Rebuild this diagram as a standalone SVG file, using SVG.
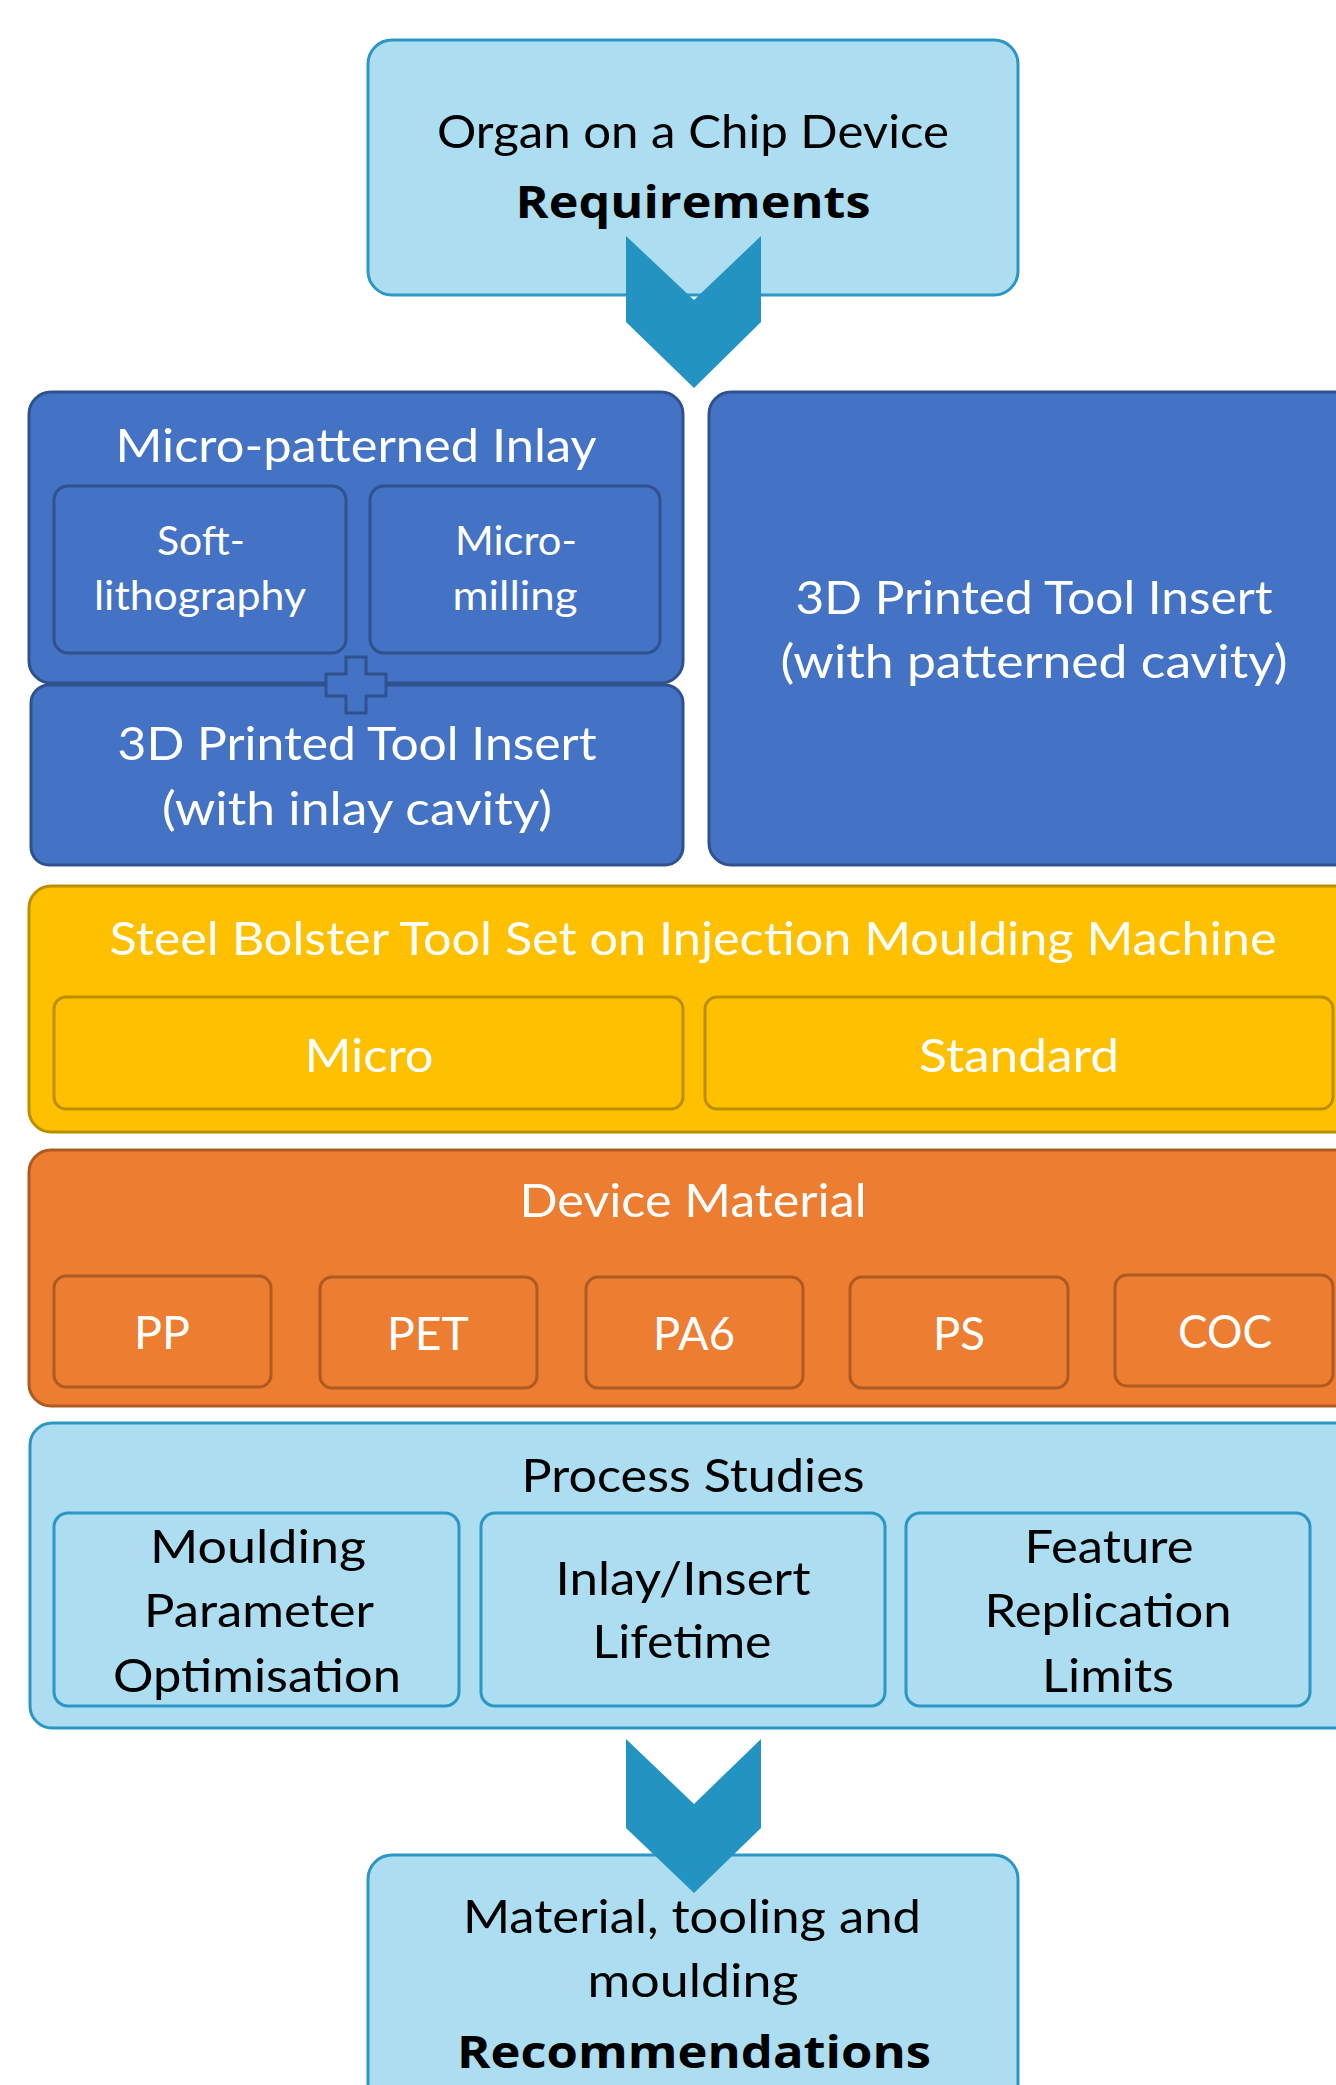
<svg xmlns="http://www.w3.org/2000/svg" width="1336" height="2085" viewBox="0 0 1336 2085">
<style>
  text { font-family: Lato, Carlito, "Liberation Sans", sans-serif; font-size: 47px; text-anchor: middle; }
  .lb { fill: #ACDDF0; stroke: #2C97C5; stroke-width: 3; }
  .db { fill: #4472C4; stroke: #2F528F; stroke-width: 3; }
  .yl { fill: #FFC000; stroke: #BC8F00; stroke-width: 3; }
  .or { fill: #ED7D31; stroke: #AE5A21; stroke-width: 3; }
  .k { fill: #000000; }
  .w { fill: #FFFFFF; }
  .b { font-family: "Open Sans", "Noto Sans", "Liberation Sans", sans-serif; font-weight: bold; font-size: 45px; }
  .sm { font-size: 40px; }
  .chev { fill: #2394C2; }
</style>
<rect width="1336" height="2085" fill="#FFFFFF"/>

<g id="node-requirements">
  <rect class="lb" x="368" y="40" width="650" height="255" rx="24"/>
  <text class="k" x="693" y="148" textLength="512" lengthAdjust="spacingAndGlyphs">Organ on a Chip Device</text>
  <text class="k b" x="693" y="218" textLength="355" lengthAdjust="spacingAndGlyphs">Requirements</text>
</g>

<g id="node-recommendations">
  <rect class="lb" x="368" y="1855" width="650" height="280" rx="24"/>
  <text class="k" x="692" y="1933" textLength="458" lengthAdjust="spacingAndGlyphs">Material, tooling and</text>
  <text class="k" x="693" y="1997" textLength="211" lengthAdjust="spacingAndGlyphs">moulding</text>
  <text class="k b" x="694" y="2068" textLength="474" lengthAdjust="spacingAndGlyphs">Recommendations</text>
</g>

<g id="node-inlay">
  <rect class="db" x="29" y="392" width="654" height="291" rx="22"/>
  <text class="w" x="356" y="462" textLength="481" lengthAdjust="spacingAndGlyphs">Micro-patterned Inlay</text>
  <g id="node-softlitho">
    <rect class="db" x="54" y="486" width="292" height="167" rx="14"/>
    <text class="w sm" x="201" y="555" textLength="88" lengthAdjust="spacingAndGlyphs">Soft-</text>
    <text class="w sm" x="200" y="610" textLength="212" lengthAdjust="spacingAndGlyphs">lithography</text>
  </g>
  <g id="node-micromilling">
    <rect class="db" x="370" y="486" width="290" height="167" rx="14"/>
    <text class="w sm" x="516" y="555" textLength="122" lengthAdjust="spacingAndGlyphs">Micro-</text>
    <text class="w sm" x="515" y="610" textLength="125" lengthAdjust="spacingAndGlyphs">milling</text>
  </g>
</g>

<g id="node-insert-inlay">
  <rect class="db" x="31" y="685" width="652" height="180" rx="18"/>
  <text class="w" x="357" y="760" textLength="479" lengthAdjust="spacingAndGlyphs">3D Printed Tool Insert</text>
  <text class="w" x="357" y="825" textLength="390" lengthAdjust="spacingAndGlyphs">(with inlay cavity)</text>
</g>

<g id="node-plus">
  <path class="db" d="M346,657 H366 V674 H386 V696 H366 V713 H346 V696 H326 V674 H346 Z"/>
</g>

<g id="node-insert-patterned">
  <rect class="db" x="709" y="392" width="660" height="473" rx="22"/>
  <text class="w" x="1034" y="614" textLength="477" lengthAdjust="spacingAndGlyphs">3D Printed Tool Insert</text>
  <text class="w" x="1034" y="678" textLength="507" lengthAdjust="spacingAndGlyphs">(with patterned cavity)</text>
</g>

<g id="node-bolster">
  <rect class="yl" x="29" y="886" width="1340" height="246" rx="22"/>
  <text class="w" x="693" y="955" textLength="1167" lengthAdjust="spacingAndGlyphs">Steel Bolster Tool Set on Injection Moulding Machine</text>
  <g id="node-micro">
    <rect class="yl" x="54" y="997" width="629" height="112" rx="12"/>
    <text class="w" x="369" y="1072" textLength="129" lengthAdjust="spacingAndGlyphs">Micro</text>
  </g>
  <g id="node-standard">
    <rect class="yl" x="705" y="997" width="628" height="112" rx="12"/>
    <text class="w" x="1019" y="1072" textLength="200" lengthAdjust="spacingAndGlyphs">Standard</text>
  </g>
</g>

<g id="node-material">
  <rect class="or" x="29" y="1150" width="1340" height="256" rx="22"/>
  <text class="w" x="693" y="1217" textLength="347" lengthAdjust="spacingAndGlyphs">Device Material</text>
  <g id="node-pp">
    <rect class="or" x="54" y="1276" width="217" height="111" rx="12"/>
    <text class="w" x="162" y="1349" textLength="56" lengthAdjust="spacingAndGlyphs">PP</text>
  </g>
  <g id="node-pet">
    <rect class="or" x="320" y="1277" width="217" height="111" rx="12"/>
    <text class="w" x="428" y="1350" textLength="82" lengthAdjust="spacingAndGlyphs">PET</text>
  </g>
  <g id="node-pa6">
    <rect class="or" x="586" y="1277" width="217" height="111" rx="12"/>
    <text class="w" x="694" y="1350" textLength="82" lengthAdjust="spacingAndGlyphs">PA6</text>
  </g>
  <g id="node-ps">
    <rect class="or" x="850" y="1277" width="218" height="111" rx="12"/>
    <text class="w" x="959" y="1350" textLength="52" lengthAdjust="spacingAndGlyphs">PS</text>
  </g>
  <g id="node-coc">
    <rect class="or" x="1115" y="1275" width="218" height="111" rx="12"/>
    <text class="w" x="1225" y="1348" textLength="94" lengthAdjust="spacingAndGlyphs">COC</text>
  </g>
</g>

<g id="node-process">
  <rect class="lb" x="30" y="1423" width="1340" height="305" rx="22"/>
  <text class="k" x="693" y="1492" textLength="343" lengthAdjust="spacingAndGlyphs">Process Studies</text>
  <g id="node-moulding-param">
    <rect class="lb" x="54" y="1513" width="405" height="193" rx="14"/>
    <text class="k" x="258" y="1563" textLength="216" lengthAdjust="spacingAndGlyphs">Moulding</text>
    <text class="k" x="259" y="1627" textLength="230" lengthAdjust="spacingAndGlyphs">Parameter</text>
    <text class="k" x="257" y="1692" textLength="288" lengthAdjust="spacingAndGlyphs">Optimisation</text>
  </g>
  <g id="node-lifetime">
    <rect class="lb" x="481" y="1513" width="404" height="193" rx="14"/>
    <text class="k" x="683" y="1595" textLength="255" lengthAdjust="spacingAndGlyphs">Inlay/Insert</text>
    <text class="k" x="682" y="1658" textLength="179" lengthAdjust="spacingAndGlyphs">Lifetime</text>
  </g>
  <g id="node-feature">
    <rect class="lb" x="906" y="1513" width="404" height="193" rx="14"/>
    <text class="k" x="1109" y="1563" textLength="169" lengthAdjust="spacingAndGlyphs">Feature</text>
    <text class="k" x="1108" y="1627" textLength="247" lengthAdjust="spacingAndGlyphs">Replication</text>
    <text class="k" x="1108" y="1692" textLength="132" lengthAdjust="spacingAndGlyphs">Limits</text>
  </g>
</g>

<g id="connectors">
  <path class="chev" d="M626,236 L694,300 L761,236 L761,322 L694,388 L626,322 Z"/>
  <path class="chev" d="M626,1739 L694,1804 L761,1739 L761,1828 L694,1893 L626,1828 Z"/>
</g>
</svg>
